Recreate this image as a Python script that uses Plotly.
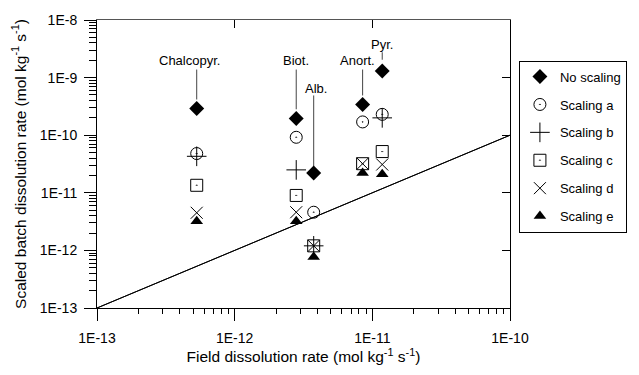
import math
import plotly.graph_objects as go

# ---- data ----
minerals = ["Chalcopyr.", "Biot.", "Alb.", "Anort.", "Pyr."]
field_rate = [5.3e-13, 2.8e-12, 3.75e-12, 8.5e-12, 1.18e-11]
no_scaling = [2.9e-10, 1.95e-10, 2.2e-11, 3.4e-10, 1.3e-9]
scaling_a = [4.8e-11, 9.2e-11, 4.6e-12, 1.7e-10, 2.3e-10]
scaling_b = [4.3e-11, 2.5e-11, 1.2e-12, None, 2.0e-10]
scaling_c = [1.35e-11, 9.0e-12, 1.2e-12, 3.2e-11, 5.2e-11]
scaling_d = [4.5e-12, 4.6e-12, 1.2e-12, 3.2e-11, 3.1e-11]
scaling_e = [3.2e-12, 3.2e-12, 7.7e-13, 2.2e-11, 2.1e-11]
one_to_one = [1e-13, 1e-10]

tick_vals = [1e-13, 1e-12, 1e-11, 1e-10]
tick_text = ["1E-13", "1E-12", "1E-11", "1E-10"]
ytick_vals = [1e-13, 1e-12, 1e-11, 1e-10, 1e-9, 1e-8]
ytick_text = ["1E-13", "1E-12", "1E-11", "1E-10", "1E-9", "1E-8"]

# label / leader-line placement (log10 of y, layout only)
label_y = [-8.71, -8.71, -9.19, -8.71, -8.42]
label_xshift = [-7, 0, 2, -5, 0]
line_top = [-8.86, -8.86, -9.31, -8.86, -8.56]
line_bot = [-9.38, -9.55, -10.58, -9.31, -8.69]

FONT = "Liberation Sans, Arial, sans-serif"
fig = go.Figure()

series = [
    ("No scaling", no_scaling, dict(symbol="diamond", size=11.5, color="black")),
    ("Scaling a", scaling_a, dict(symbol="circle-open-dot", size=12, color="black", line=dict(width=1))),
    ("Scaling b", scaling_b, dict(symbol="cross-thin-open", size=14, color="black", line=dict(width=1, color="black"))),
    ("Scaling c", scaling_c, dict(symbol="square-open-dot", size=12, color="black", line=dict(width=1))),
    ("Scaling d", scaling_d, dict(symbol="x-thin-open", size=12, color="black", line=dict(width=1, color="black"))),
    ("Scaling e", scaling_e, dict(symbol="triangle-up", size=11, color="black")),
]

# 1:1 line
fig.add_trace(go.Scatter(x=one_to_one, y=one_to_one, mode="lines",
                         line=dict(color="black", width=1), showlegend=False,
                         hoverinfo="skip"))
fig.add_trace(go.Scatter(x=one_to_one, y=one_to_one, mode="lines", xaxis="x2", yaxis="y2",
                         line=dict(color="black", width=1), showlegend=False,
                         hoverinfo="skip"))

# leader lines
for i, m in enumerate(minerals):
    fig.add_trace(go.Scatter(x=[field_rate[i], field_rate[i]],
                             y=[10 ** line_top[i], 10 ** line_bot[i]],
                             mode="lines", line=dict(color="#444", width=1),
                             showlegend=False, hoverinfo="skip"))
    fig.add_annotation(x=math.log10(field_rate[i]), y=label_y[i], text=m,
                       showarrow=False, xshift=label_xshift[i],
                       font=dict(family=FONT, size=13, color="black"))

for k, (name, vals, mk) in enumerate(series):
    fig.add_trace(go.Scatter(x=field_rate, y=vals, mode="markers", name=name,
                             marker=mk, legendgroup=name))

axis_common = dict(type="log", showgrid=False, zeroline=False, showline=True,
                   linecolor="black", linewidth=1, tickcolor="black",
                   tickfont=dict(family=FONT, size=14, color="black"))

fig.update_layout(
    width=639, height=375,
    margin=dict(l=97, r=126, t=17, b=67),
    paper_bgcolor="white", plot_bgcolor="white",
    font=dict(family=FONT, size=13, color="black"),
    xaxis=dict(**axis_common, range=[-13, -10], tickvals=tick_vals, ticktext=tick_text,
               ticks="outside", ticklen=12, ticklabelstandoff=5,
               minor=dict(ticks="outside", ticklen=5, tickcolor="black", dtick="D1"),
               title=dict(text="Field dissolution rate (mol kg<sup>-1</sup> s<sup>-1</sup>)",
                          font=dict(family=FONT, size=15.5), standoff=1)),
    yaxis=dict(**axis_common, range=[-13, -8], tickvals=ytick_vals, ticktext=ytick_text,
               ticks="outside", ticklen=12, ticklabelstandoff=4,
               minor=dict(ticks="outside", ticklen=7, tickcolor="black", dtick="D1"),
               title=dict(text="Scaled batch dissolution rate (mol kg<sup>-1</sup> s<sup>-1</sup>)",
                          font=dict(family=FONT, size=15.5), standoff=9)),
    xaxis2=dict(type="log", overlaying="x", side="top", range=[-13, -10],
                showgrid=False, zeroline=False, showline=True, linecolor="#555",
                tickvals=tick_vals, ticks="inside", ticklen=8, tickcolor="black",
                showticklabels=False),
    yaxis2=dict(type="log", overlaying="y", side="right", range=[-13, -8],
                showgrid=False, zeroline=False, showline=True, linecolor="black",
                tickvals=ytick_vals, ticks="inside", ticklen=8, tickcolor="black",
                showticklabels=False),
    legend=dict(x=1.0216, y=0.859, xanchor="left", yanchor="top",
                bordercolor="black", borderwidth=1, bgcolor="white",
                font=dict(family=FONT, size=13, color="black"),
                tracegroupgap=8, itemwidth=30),
    showlegend=True,
)

fig.write_html("out.html")
